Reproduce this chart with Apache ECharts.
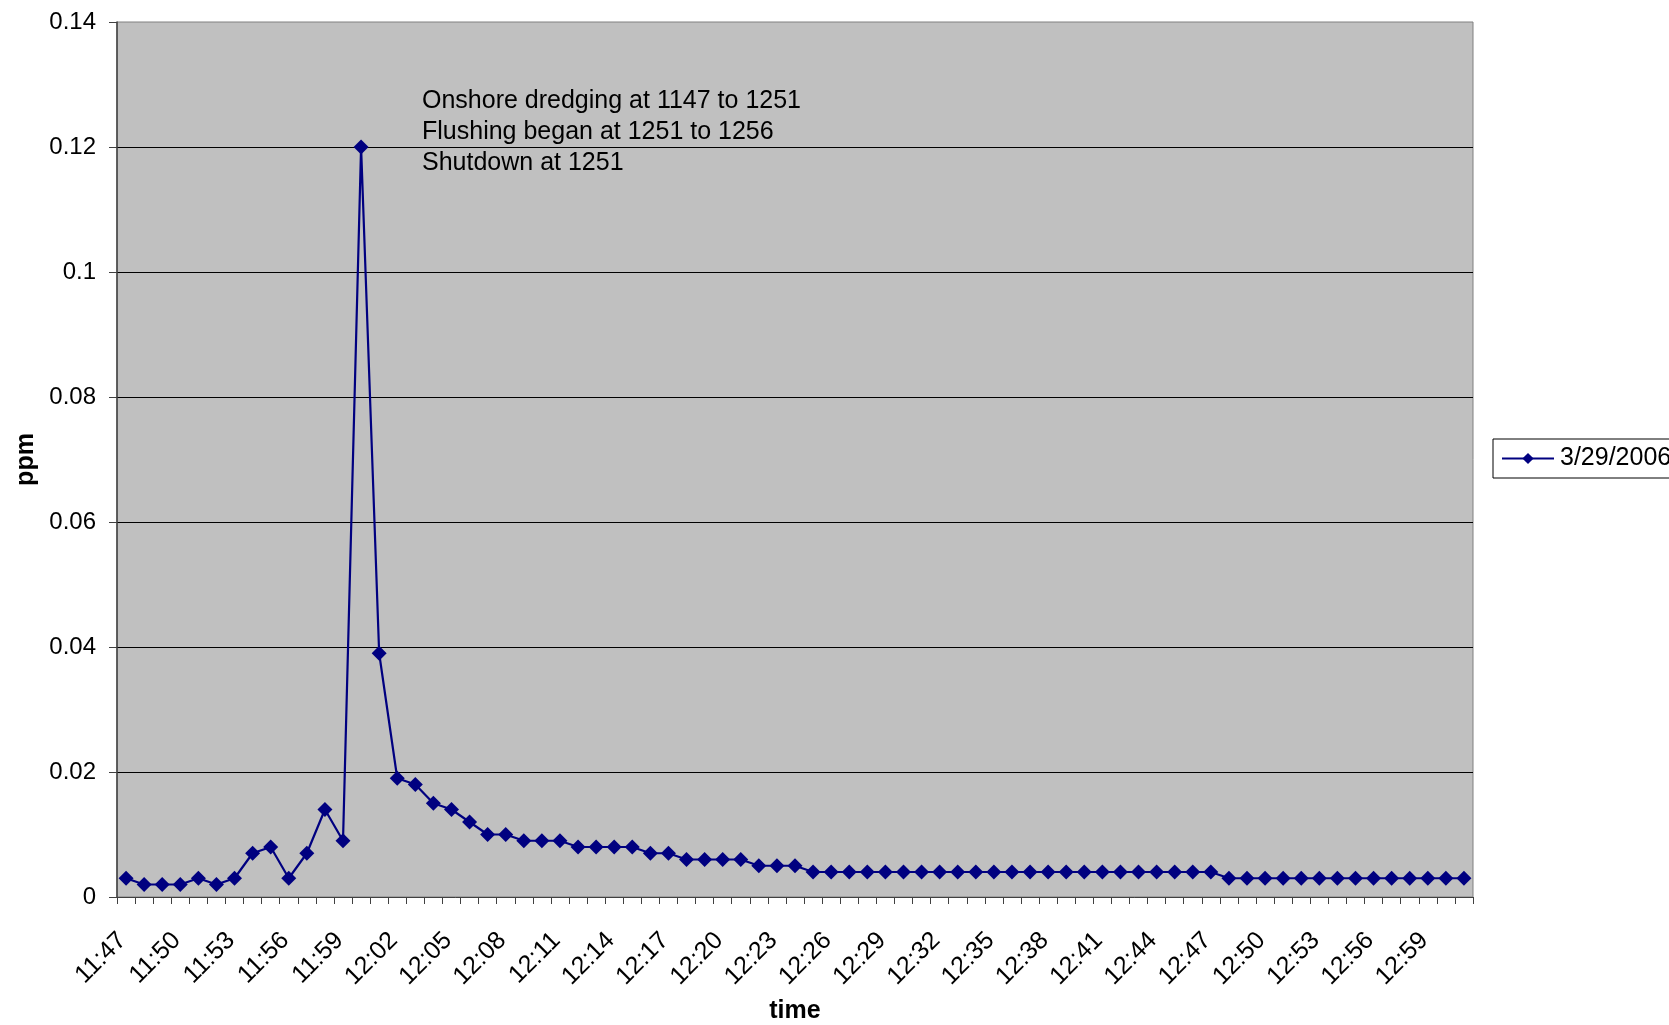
<!DOCTYPE html>
<html>
<head>
<meta charset="utf-8">
<title>ppm over time</title>
<script src="https://cdn.jsdelivr.net/npm/echarts@6/dist/echarts.min.js"></script>
<style>
  html, body { margin: 0; padding: 0; background: #ffffff; }
  #chart { width: 1669px; height: 1025px; }
</style>
</head>
<body>
<div id="chart"></div>
<script>
// Sample times (one per minute)
const times = [
  '11:47','11:48','11:49','11:50','11:51','11:52','11:53','11:54','11:55','11:56',
  '11:57','11:58','11:59','12:00','12:01','12:02','12:03','12:04','12:05','12:06',
  '12:07','12:08','12:09','12:10','12:11','12:12','12:13','12:14','12:15','12:16',
  '12:17','12:18','12:19','12:20','12:21','12:22','12:23','12:24','12:25','12:26',
  '12:27','12:28','12:29','12:30','12:31','12:32','12:33','12:34','12:35','12:36',
  '12:37','12:38','12:39','12:40','12:41','12:42','12:43','12:44','12:45','12:46',
  '12:47','12:48','12:49','12:50','12:51','12:52','12:53','12:54','12:55','12:56',
  '12:57','12:58','12:59','13:00','13:01'
];

// Measured concentration, ppm
const ppm = [
  0.003, 0.002, 0.002, 0.002, 0.003, 0.002, 0.003, 0.007, 0.008, 0.003,
  0.007, 0.014, 0.009, 0.12, 0.039, 0.019, 0.018, 0.015, 0.014, 0.012,
  0.010, 0.010, 0.009, 0.009, 0.009, 0.008, 0.008, 0.008, 0.008, 0.007,
  0.007, 0.006, 0.006, 0.006, 0.006, 0.005, 0.005, 0.005, 0.004, 0.004,
  0.004, 0.004, 0.004, 0.004, 0.004, 0.004, 0.004, 0.004, 0.004, 0.004,
  0.004, 0.004, 0.004, 0.004, 0.004, 0.004, 0.004, 0.004, 0.004, 0.004,
  0.004, 0.003, 0.003, 0.003, 0.003, 0.003, 0.003, 0.003, 0.003, 0.003,
  0.003, 0.003, 0.003, 0.003, 0.003
];

const seriesName = '3/29/2006';

const notes = [
  'Onshore dredging at 1147 to 1251',
  'Flushing began at 1251 to 1256',
  'Shutdown at 1251'
];

const FONT = '"Liberation Sans", Arial, sans-serif';

const chart = echarts.init(document.getElementById('chart'), null, { renderer: 'canvas' });

chart.setOption({
  animation: false,
  backgroundColor: '#ffffff',
  textStyle: { fontFamily: FONT },
  grid: {
    left: 117, right: 196, top: 22, bottom: 128,
    outerBoundsMode: 'none',
    containLabel: false,
    show: true,
    backgroundColor: '#c0c0c0',
    borderColor: '#808080',
    borderWidth: 1
  },
  legend: {
    left: 1493, top: 439,
    orient: 'vertical',
    backgroundColor: '#ffffff',
    borderColor: '#000000',
    borderWidth: 1,
    borderRadius: 0,
    padding: [7, 8, 7, 8],
    itemWidth: 52, itemHeight: 14,
    itemGap: 0,
    textStyle: { fontFamily: FONT, fontSize: 25, color: '#000000', padding: [0, 0, 0, 1] },
    data: [seriesName]
  },
  xAxis: {
    type: 'category',
    data: times,
    boundaryGap: true,
    name: 'time',
    nameLocation: 'middle',
    nameGap: 102,
    nameTextStyle: { fontFamily: FONT, fontSize: 25, fontWeight: 'bold', color: '#000000' },
    axisLine: { show: true, lineStyle: { color: '#404040', width: 1 } },
    axisTick: { show: true, interval: 0, length: 7, alignWithLabel: false, lineStyle: { color: '#404040' } },
    axisLabel: {
      interval: 2,
      rotate: 45,
      margin: 36,
      padding: [0, 5, 0, 0],
      fontFamily: FONT,
      fontSize: 25,
      color: '#000000'
    },
    splitLine: { show: false }
  },
  yAxis: {
    type: 'value',
    min: 0, max: 0.14, interval: 0.02,
    name: 'ppm',
    nameLocation: 'middle',
    nameGap: 77,
    nameTextStyle: { fontFamily: FONT, fontSize: 25, fontWeight: 'bold', color: '#000000' },
    axisLine: { show: true, lineStyle: { color: '#404040', width: 1.5 } },
    axisTick: { show: true, length: 8, lineStyle: { color: '#404040' } },
    axisLabel: {
      margin: 21,
      fontFamily: FONT,
      fontSize: 24,
      color: '#000000',
      formatter: v => String(+v.toFixed(2))
    },
    splitLine: { show: true, showMinLine: false, showMaxLine: false, lineStyle: { color: '#000000', width: 1 } }
  },
  graphic: [{
    type: 'text',
    left: 422, top: 86,
    silent: true,
    style: {
      text: notes.join('\n'),
      fontFamily: FONT,
      fontSize: 25,
      lineHeight: 31,
      fill: '#000000'
    }
  }],
  series: [{
    name: seriesName,
    type: 'line',
    data: ppm,
    symbol: 'diamond',
    symbolSize: 15,
    showAllSymbol: true,
    lineStyle: { color: '#000080', width: 2.2 },
    itemStyle: { color: '#000080' }
  }]
});
</script>
</body>
</html>
